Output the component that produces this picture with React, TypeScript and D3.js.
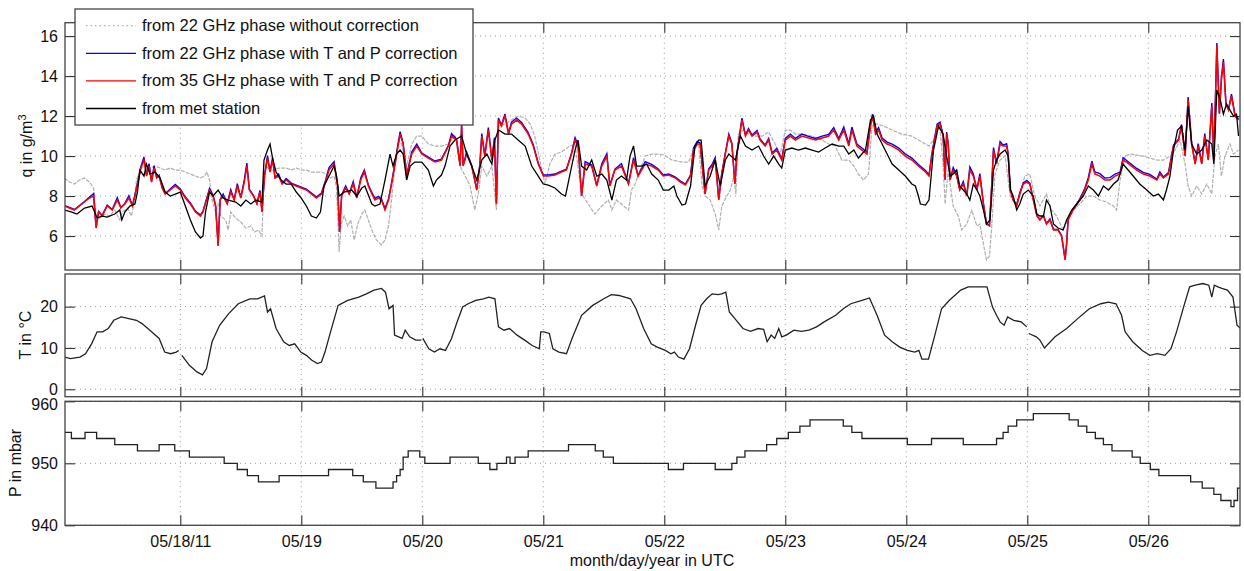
import React, { useEffect, useRef } from "react";
import * as d3 from "d3";

// time is in hours after 05/17/2011 00:00 UTC

// q from met station, g/m3
const qMet: [number, number][] = [
  [1.1, 7.3], [2.5, 7.2], [3.5, 7.1], [5, 7.4], [6.5, 7.5], [7.5, 6.9], [8.5, 7.0], [9.5, 6.95], [11, 7.1], [12, 7.3],
  [12.4, 6.8], [13, 7.2], [14, 7.5], [15, 7.6], [15.5, 8.2], [16, 9.3], [16.8, 9.0], [17.3, 9.6], [18, 9.1], [19, 9.2],
  [20, 8.9], [21, 8.2], [22, 8.0], [23, 8.1], [24, 8.2], [25, 7.5], [26, 6.8], [27, 6.2], [28, 5.9], [28.5, 6.0],
  [29, 7.2], [29.8, 8.2], [30.5, 8.0], [31.5, 8.3], [32.5, 7.9], [33.5, 7.8], [35, 7.7], [36, 7.5], [37, 7.8], [38, 7.6],
  [39, 7.8], [40.2, 7.7], [40.6, 9.8], [41.3, 10.3], [41.8, 10.6], [42.3, 9.9], [43, 9.2], [44, 8.8], [45, 8.6], [46, 8.6],
  [47, 8.2], [48, 7.9], [49, 7.5], [50, 7.0], [51, 6.9], [51.8, 7.2], [52.5, 8.5], [53.5, 9.0], [54.5, 9.5], [55, 9.0],
  [55.5, 8.0], [56.5, 8.2], [58, 8.3], [59, 8.0], [60, 8.4], [60.6, 8.5], [62.0, 7.6], [62.6, 7.5], [63.6, 7.6], [64.6, 8.8],
  [65.6, 10.1], [66.2, 9.5], [66.9, 10.1], [67.6, 10.3], [68.2, 10.1], [68.9, 8.8], [69.6, 9.5], [70.5, 9.7], [71.9, 9.7], [73.2, 9.3],
  [74.2, 8.5], [74.8, 8.8], [75.8, 9.05], [76.5, 9.5], [77.5, 10.5], [78.5, 10.8], [79.8, 11.0], [80.8, 10.1], [81.8, 9.5], [82.8, 8.8],
  [83.8, 9.8], [84.8, 10.1], [85.8, 9.6], [86.4, 10.8], [87.1, 11.3], [88.4, 11.1], [89.7, 11.1], [91.0, 10.8], [92.4, 10.5], [93.7, 9.5],
  [95.0, 9.0], [96.0, 8.6], [97.0, 8.55], [98.3, 8.4], [99.6, 8.1], [100.4, 8.0], [101.3, 9.1], [102.3, 10.3], [102.9, 10.8], [103.6, 9.5],
  [104.6, 9.3], [105.6, 9.8], [106.6, 9.0], [107.6, 9.1], [108.6, 8.8], [109.6, 7.8], [110.5, 8.8], [111.5, 9.0], [112.5, 8.8], [113.2, 10.0],
  [113.9, 10.5], [114.5, 9.5], [115.5, 9.5], [116.5, 9.6], [117.5, 9.1], [118.8, 8.8], [119.8, 8.3], [120.9, 8.3], [121.9, 8.5], [122.5, 8.0],
  [123.5, 7.55], [124.2, 7.6], [125.2, 8.5], [126.1, 10.5], [126.8, 10.8], [127.3, 10.8], [128.1, 8.5], [129.1, 9.0], [130.1, 9.8], [131.1, 8.5],
  [132.1, 9.8], [132.8, 10.1], [134.1, 9.8], [135.1, 11.0], [136.1, 10.5], [137.4, 10.3], [138.7, 10.5], [139.7, 10.0], [140.7, 9.6], [141.7, 10.0],
  [142.7, 9.6], [143.3, 9.4], [144.0, 10.3], [145.3, 10.4], [146.6, 10.3], [148.0, 10.4], [149.3, 10.3], [150.6, 10.2], [151.9, 10.4], [153.3, 10.6],
  [154.6, 10.5], [155.6, 10.5], [156.6, 10.1], [157.6, 10.3], [158.5, 9.9], [159.9, 10.3], [160.9, 11.8], [161.5, 12.0], [162.2, 11.1], [163.2, 10.6],
  [164.2, 10.1], [165.2, 9.6], [166.5, 9.3], [167.8, 9.0], [169.1, 8.6], [169.8, 8.5], [170.4, 8.0], [170.8, 7.6], [171.8, 7.55], [172.5, 7.8],
  [173.4, 10.3], [174.4, 11.5], [175.3, 11.1], [176.0, 10.0], [176.7, 9.0], [177.3, 9.1], [178.0, 9.3], [178.6, 8.5], [179.3, 8.3], [180.0, 8.1],
  [180.6, 7.8], [181.3, 8.6], [182.0, 8.3], [182.6, 8.0], [183.3, 7.3], [183.9, 6.6], [184.6, 6.8], [185.3, 9.3], [185.9, 9.8], [186.6, 10.1],
  [187.6, 10.3], [188.2, 10.0], [188.7, 8.3], [189.2, 8.0], [189.9, 7.3], [190.5, 7.6], [191.2, 8.1], [192.2, 8.3], [193.2, 8.0], [193.9, 7.1],
  [194.5, 7.0], [195.2, 7.0], [195.8, 7.8], [196.5, 7.5], [197.2, 6.6], [198.1, 6.4], [199.1, 6.3], [199.8, 6.8], [200.8, 7.3], [201.8, 7.6],
  [203.1, 8.0], [204.1, 8.5], [205.1, 8.3], [206.1, 8.0], [207.1, 8.5], [208.1, 8.3], [209.1, 8.6], [210.0, 8.8], [211.0, 9.6], [212.0, 9.3],
  [213.0, 9.0], [214.3, 8.6], [215.7, 8.3], [217.0, 8.0], [218.0, 8.1], [219.0, 7.8], [219.6, 8.3], [220.3, 9.0], [221.0, 10.3], [221.8, 11.3],
  [222.6, 11.5], [223.3, 10.3], [223.9, 12.5], [224.6, 10.6], [225.6, 10.1], [226.6, 10.3], [227.6, 10.8], [228.6, 10.6], [229.0, 9.6], [229.6, 13.3],
  [230.3, 12.8], [230.9, 12.1], [231.5, 12.6], [232.2, 12.3], [232.9, 12.0], [233.5, 12.1], [233.9, 11.0],
];

// q from 22 GHz phase, no correction
const q22Raw: [number, number][] = [
  [1, 8.9], [2, 8.7], [3, 8.6], [4, 8.8], [5, 8.9], [6, 8.7], [6.8, 8.4], [7.3, 7.0], [8, 6.9], [9, 7.1],
  [10, 7.0], [11, 7.3], [12, 6.8], [12.5, 7.2], [13.5, 7.4], [14.3, 7.0], [14.8, 7.6], [15.3, 8.8], [16, 9.3], [17, 9.6],
  [18, 9.4], [19, 9.5], [20, 9.4], [21, 9.3], [22, 9.4], [23, 9.3], [24, 9.3], [25, 9.2], [26, 9.1], [27, 9.0],
  [28, 8.9], [28.8, 9.0], [29.3, 9.2], [29.8, 8.8], [30.3, 7.8], [31, 7.2], [31.5, 7.6], [32, 7.0], [33, 6.8], [33.5, 6.3],
  [34, 7.2], [35, 6.9], [36, 6.7], [37, 6.4], [38, 6.5], [38.7, 6.2], [39.5, 6.3], [40.2, 6.0], [40.5, 8.2], [41, 9.5],
  [41.8, 9.3], [42.5, 9.3], [43.5, 9.4], [45, 9.4], [46, 9.3], [47, 9.4], [48, 9.3], [49, 9.3], [50, 9.2], [51, 9.2],
  [52, 9.2], [53, 9.1], [53.8, 8.9], [54.5, 9.0], [55, 8.4], [55.5, 5.2], [55.9, 6.6], [56.5, 7.0], [57.2, 6.5], [57.8, 6.8],
  [58.5, 5.8], [59.2, 6.6], [60, 7.1], [60.6, 7.3], [61.3, 6.8], [62.0, 6.3], [62.9, 5.8], [63.9, 5.55], [64.6, 5.8], [65.3, 6.5],
  [65.9, 7.8], [66.6, 9.5], [67.2, 10.8], [67.9, 10.6], [68.9, 9.5], [69.9, 10.6], [70.9, 11.0], [71.9, 11.0], [73.2, 10.6], [74.5, 10.5],
  [75.8, 10.5], [77.2, 10.6], [78.5, 11.05], [79.5, 9.5], [80.5, 9.0], [81.5, 8.5], [82.4, 7.3], [83.1, 8.1], [83.8, 9.5], [84.8, 9.0],
  [85.8, 9.5], [86.7, 7.3], [87.1, 11.5], [88.4, 11.6], [89.7, 11.8], [91.0, 12.0], [92.4, 11.9], [93.4, 11.6], [94.3, 11.0], [95.3, 9.8],
  [96.0, 9.0], [96.3, 8.6], [97.3, 9.6], [98.3, 10.1], [99.6, 10.2], [101.3, 10.5], [102.3, 10.6], [103.6, 8.1], [104.9, 7.6], [106.2, 7.1],
  [107.6, 7.5], [108.9, 7.8], [109.6, 7.3], [110.5, 7.8], [111.5, 7.6], [112.9, 7.3], [113.5, 8.3], [114.2, 8.6], [115.2, 9.3], [116.2, 10.0],
  [117.5, 10.1], [118.8, 10.1], [120.1, 10.05], [120.9, 9.9], [121.5, 9.8], [123.5, 9.7], [124.8, 9.7], [125.8, 10.3], [126.8, 10.6], [127.5, 8.5],
  [128.1, 8.0], [129.1, 7.8], [130.1, 7.1], [130.8, 6.3], [131.4, 7.5], [132.4, 8.0], [133.1, 8.3], [133.8, 9.0], [134.2, 8.1], [134.7, 11.1],
  [135.7, 11.3], [136.7, 11.1], [138.0, 11.0], [139.4, 11.0], [140.7, 11.2], [142.0, 10.6], [143.0, 10.1], [144.0, 11.3], [145.0, 11.3], [146.0, 11.1],
  [147.3, 11.1], [149.3, 11.0], [151.3, 10.8], [152.6, 10.6], [153.9, 10.5], [155.2, 9.8], [156.6, 9.8], [157.6, 9.5], [158.5, 9.1], [159.5, 8.8],
  [160.5, 9.1], [161.2, 11.5], [162.2, 11.6], [163.5, 11.5], [165.2, 11.3], [167.1, 11.1], [169.1, 11.0], [171.1, 10.7], [172.5, 10.5], [173.4, 10.8],
  [174.4, 11.5], [174.7, 11.3], [175.3, 9.6], [175.7, 7.6], [176.3, 9.3], [177.3, 7.5], [178.3, 7.0], [179.0, 6.3], [180.0, 6.6], [181.0, 7.3],
  [182.0, 6.5], [182.6, 6.6], [183.3, 5.6], [183.9, 4.8], [184.5, 5.0], [184.9, 6.3], [185.6, 9.1], [186.6, 9.8], [187.6, 10.0], [188.6, 8.0],
  [189.6, 7.6], [190.5, 8.0], [191.5, 9.0], [192.5, 9.1], [193.5, 8.0], [194.5, 7.5], [195.8, 8.1], [196.8, 7.3], [197.8, 7.0], [199.1, 6.3],
  [200.1, 6.8], [201.1, 7.3], [202.4, 7.6], [203.8, 8.0], [205.1, 8.0], [206.4, 7.8], [207.7, 7.7], [209.1, 7.5], [209.7, 7.3], [210.4, 8.8],
  [211.4, 10.0], [212.4, 10.1], [213.7, 10.05], [215.0, 10.0], [216.3, 9.9], [217.7, 9.8], [219.0, 9.8], [220.3, 10.0], [221.3, 10.3], [222.3, 10.8],
  [223.3, 9.6], [223.9, 8.5], [224.6, 8.0], [225.6, 8.5], [226.6, 8.1], [227.6, 8.6], [228.6, 8.1], [229.2, 10.0], [229.9, 10.6], [230.5, 9.0],
  [231.2, 10.0], [232.2, 10.6], [232.9, 10.1], [233.9, 10.3],
];

// sample times shared by the two corrected series
const corrHours = [
  1, 2, 3, 4, 5, 6, 6.8, 7.3, 7.8, 8.5,
  9.5, 10.5, 11.5, 12.2, 13, 13.8, 14.5, 15, 15.5, 16.2,
  16.8, 17.3, 17.8, 18.3, 18.8, 19.3, 19.8, 20.4, 21, 22,
  23, 24, 25, 26, 27, 28, 28.5, 29.2, 29.8, 30.5,
  31, 31.5, 31.9, 32.5, 33.3, 34, 34.7, 35.3, 36, 36.7,
  37.2, 37.7, 38.5, 39.2, 39.8, 40.2, 40.7, 41.3, 41.8, 42.3,
  42.8, 43.5, 44.2, 45, 46, 47, 48, 49, 50, 51,
  52, 52.8, 53.5, 54.5, 55.2, 55.6, 56, 56.8, 57.5, 58.3,
  59, 59.8, 60.5, 61.3, 62.0, 62.6, 63.3, 63.9, 64.6, 65.3,
  65.9, 66.6, 67.6, 68.2, 68.9, 69.9, 70.9, 71.9, 73.2, 74.5,
  75.8, 77.2, 77.8, 78.8, 79.5, 79.8, 80.1, 80.8, 81.8, 82.8,
  83.4, 83.8, 84.4, 85.1, 85.8, 86.3, 86.7, 87.1, 87.7, 88.4,
  89.1, 89.7, 90.7, 91.7, 93.0, 94.0, 95.0, 96.0, 97.0, 98.3,
  99.6, 100.6, 101.6, 102.3, 102.9, 103.6, 104.3, 105.6, 106.6, 107.6,
  108.6, 109.2, 110.2, 111.5, 112.9, 113.9, 114.8, 116.2, 117.5, 118.8,
  119.8, 120.9, 122.2, 123.2, 124.2, 125.2, 125.8, 126.5, 127.1, 127.8,
  128.1, 128.8, 129.5, 130.1, 130.8, 131.4, 132.1, 132.8, 133.4, 134.0,
  134.4, 135.1, 135.4, 136.1, 136.7, 137.4, 138.4, 139.0, 140.0, 140.7,
  141.4, 142.3, 143.3, 144.0, 145.0, 146.0, 147.3, 148.6, 150.0, 151.3,
  152.6, 153.6, 154.6, 155.6, 156.6, 157.2, 158.2, 159.2, 160.2, 160.9,
  161.3, 161.9, 162.5, 163.2, 164.2, 165.2, 166.5, 167.8, 169.1, 170.4,
  171.8, 172.5, 173.1, 174.1, 174.7, 175.3, 175.7, 176.0, 176.3, 176.7,
  177.3, 178.0, 178.6, 179.3, 180.0, 180.6, 181.3, 182.0, 182.6, 183.3,
  183.9, 184.5, 184.9, 185.3, 185.9, 186.6, 187.2, 187.9, 188.2, 188.6,
  189.2, 189.9, 190.5, 191.2, 191.9, 192.5, 193.2, 193.9, 194.5, 195.2,
  195.8, 196.5, 197.2, 198.1, 198.8, 199.5, 199.8, 200.1, 201.1, 202.4,
  203.4, 204.1, 204.8, 205.4, 206.4, 207.4, 208.4, 209.4, 210.4, 211.0,
  211.7, 212.7, 213.7, 215.0, 216.3, 217.7, 218.3, 219.0, 220.0, 221.0,
  222.0, 222.6, 223.3, 223.9, 224.6, 225.3, 225.9, 226.6, 227.2, 227.9,
  228.6, 229.0, 229.6, 230.1, 230.5, 230.9, 231.4, 231.9, 232.5, 233.2,
  233.9,
];

// q from 35 GHz phase with T and P correction
const q35Corr = [
  7.5, 7.4, 7.3, 7.5, 7.7, 7.9, 8.0, 6.4, 7.2, 7.0,
  7.5, 7.3, 7.8, 7.4, 7.6, 7.9, 7.5, 8.0, 8.6, 9.4,
  9.8, 9.0, 9.5, 8.7, 9.4, 8.9, 9.0, 8.4, 8.1, 8.3,
  8.5, 8.3, 7.9, 7.6, 7.2, 7.0, 7.2, 7.8, 8.3, 8.0,
  7.5, 5.5, 7.8, 8.0, 7.6, 8.2, 7.8, 8.5, 7.9, 8.7,
  9.5, 8.3, 8.0, 7.6, 8.2, 7.2, 9.0, 9.9, 9.2, 9.8,
  8.9, 9.0, 8.6, 8.8, 8.6, 8.5, 8.4, 8.3, 8.1, 7.9,
  8.1, 8.7, 9.3, 9.6, 8.5, 6.2, 8.0, 8.4, 8.1, 8.6,
  7.9, 8.8, 9.2, 8.5, 8.1, 7.8, 7.9, 7.8, 7.3, 7.8,
  8.6, 9.6, 11.1, 10.6, 9.0, 10.1, 10.5, 10.1, 9.9, 9.7,
  9.8, 10.5, 11.0, 10.8, 9.5, 11.5, 9.5, 10.1, 9.5, 8.3,
  9.5, 11.0, 10.0, 11.3, 9.8, 10.8, 7.6, 11.8, 11.5, 12.0,
  11.1, 11.6, 11.8, 11.6, 11.1, 10.5, 9.6, 9.0, 9.0, 9.05,
  9.2, 9.3, 10.1, 10.8, 10.5, 8.0, 9.6, 9.5, 8.5, 9.5,
  10.0, 8.5, 9.3, 9.5, 8.6, 9.8, 9.0, 9.6, 9.5, 9.3,
  9.0, 9.05, 8.9, 8.7, 8.55, 9.0, 10.3, 10.6, 10.6, 8.8,
  8.1, 9.3, 9.5, 9.8, 7.8, 9.1, 10.1, 11.0, 10.6, 8.6,
  10.1, 11.3, 11.8, 11.0, 11.3, 11.0, 11.2, 10.8, 10.5, 10.8,
  10.1, 10.3, 9.8, 10.8, 11.0, 10.8, 11.0, 10.9, 10.8, 10.9,
  11.0, 11.3, 10.8, 11.3, 10.5, 11.3, 10.5, 10.3, 10.1, 11.5,
  12.0, 11.1, 11.3, 10.8, 10.6, 10.5, 10.3, 10.0, 9.8, 9.5,
  9.2, 9.0, 10.1, 11.5, 11.6, 11.0, 8.8, 11.1, 10.6, 8.8,
  9.3, 9.0, 8.3, 8.6, 8.0, 9.3, 9.0, 8.3, 9.0, 7.6,
  6.6, 6.5, 8.3, 10.3, 9.6, 10.6, 10.5, 10.5, 10.1, 8.3,
  7.8, 7.5, 8.1, 8.6, 8.7, 8.6, 7.8, 7.0, 6.8, 7.0,
  6.6, 6.8, 6.3, 6.3, 6.0, 4.8, 5.6, 6.8, 7.3, 7.8,
  8.3, 8.8, 9.6, 9.1, 9.0, 8.8, 8.8, 9.0, 9.1, 9.8,
  9.7, 9.5, 9.3, 9.1, 9.0, 8.8, 9.1, 8.9, 9.1, 10.5,
  10.8, 11.5, 10.0, 12.8, 10.6, 9.6, 10.5, 9.6, 11.0, 9.8,
  12.5, 9.8, 15.5, 12.1, 13.8, 14.7, 12.6, 12.3, 13.0, 12.0,
  11.8,
];

// q from 22 GHz phase with T and P correction
const q22Corr = [
  7.53, 7.43, 7.33, 7.53, 7.73, 7.95, 8.12, 6.43, 7.23, 7.03,
  7.55, 7.33, 7.92, 7.43, 7.63, 8.02, 7.53, 8.05, 8.63, 9.48,
  9.95, 9.03, 9.62, 8.73, 9.52, 8.93, 9.05, 8.43, 8.13, 8.35,
  8.58, 8.35, 7.95, 7.65, 7.25, 7.05, 7.25, 7.85, 8.38, 8.05,
  7.53, 5.53, 7.83, 8.1, 7.63, 8.32, 7.83, 8.62, 7.93, 8.82,
  9.65, 8.33, 8.03, 7.63, 8.28, 7.23, 9.05, 10.02, 9.23, 9.92,
  8.93, 9.1, 8.63, 8.88, 8.65, 8.55, 8.45, 8.35, 8.15, 7.95,
  8.15, 8.78, 9.42, 9.72, 8.53, 6.23, 8.05, 8.5, 8.13, 8.72,
  7.93, 8.92, 9.3, 8.55, 8.18, 7.88, 7.98, 7.85, 7.38, 7.85,
  8.65, 9.7, 11.22, 10.65, 9.03, 10.2, 10.6, 10.15, 9.95, 9.75,
  9.85, 10.55, 11.12, 10.85, 9.53, 11.6, 9.53, 10.2, 9.53, 8.33,
  9.53, 11.12, 10.03, 11.42, 9.83, 10.92, 7.63, 11.9, 11.55, 12.1,
  11.15, 11.7, 11.9, 11.68, 11.18, 10.58, 9.65, 9.05, 9.05, 9.1,
  9.25, 9.35, 10.15, 10.92, 10.55, 8.03, 9.72, 9.55, 8.53, 9.62,
  10.12, 8.53, 9.35, 9.62, 8.63, 9.92, 9.03, 9.72, 9.58, 9.35,
  9.05, 9.1, 8.95, 8.75, 8.6, 9.05, 10.4, 10.72, 10.65, 8.83,
  8.13, 9.35, 9.6, 9.92, 7.83, 9.15, 10.15, 11.1, 10.65, 8.63,
  10.15, 11.35, 11.9, 11.05, 11.38, 11.05, 11.28, 10.85, 10.55, 10.88,
  10.15, 10.38, 9.85, 10.88, 11.1, 10.88, 11.1, 10.98, 10.88, 11.0,
  11.08, 11.42, 10.88, 11.45, 10.6, 11.45, 10.6, 10.4, 10.2, 11.6,
  12.1, 11.2, 11.42, 10.9, 10.7, 10.6, 10.4, 10.1, 9.9, 9.58,
  9.28, 9.05, 10.15, 11.6, 11.7, 11.05, 8.83, 11.2, 10.65, 8.83,
  9.42, 9.05, 8.33, 8.72, 8.03, 9.45, 9.1, 8.33, 9.12, 7.63,
  6.63, 6.53, 8.35, 10.42, 9.65, 10.72, 10.55, 10.62, 10.15, 8.33,
  7.83, 7.53, 8.15, 8.65, 8.78, 8.65, 7.83, 7.03, 6.83, 7.03,
  6.63, 6.85, 6.33, 6.33, 6.03, 4.83, 5.63, 6.85, 7.35, 7.85,
  8.38, 8.92, 9.75, 9.2, 9.12, 8.9, 8.92, 9.1, 9.2, 9.92,
  9.78, 9.58, 9.38, 9.18, 9.08, 8.85, 9.2, 8.95, 9.18, 10.55,
  10.85, 11.58, 10.03, 12.95, 10.65, 9.63, 10.62, 9.63, 11.12, 9.83,
  12.65, 9.83, 15.65, 12.15, 13.92, 14.85, 12.65, 12.35, 13.1, 12.05,
  11.85,
];

// temperature, deg C (null = gap in record)
const tempC: [number, number | null][] = [
  [1.1, 7.8], [2.2, 7.4], [4.1, 7.8], [5.2, 8.6], [6.4, 11.0], [7.5, 13.9], [8.6, 13.9], [9.7, 14.7], [10.8, 16.7], [12.3, 17.5],
  [13.8, 17.1], [15.3, 16.7], [16.4, 15.9], [18.3, 13.9], [19.8, 12.3], [20.9, 9.0], [22.1, 8.6], [23.2, 9.0], [23.7, 9.4], [24.0, null],
  [24.3, 8.2], [25.8, 5.8], [27.3, 4.2], [28.4, 3.5], [29.2, 5.0], [30.3, 11.5], [31.8, 15.5], [33.6, 18.3], [35.5, 20.7], [37.8, 21.9],
  [39.3, 21.9], [40.7, 22.6], [41.3, 18.7], [41.9, 19.5], [43.0, 14.7], [44.5, 11.5], [45.6, 10.6], [46.7, 11.0], [47.9, 9.0], [49.0, 8.2],
  [50.1, 7.0], [51.2, 6.2], [52.0, 6.6], [52.7, 9.0], [53.8, 13.9], [55.3, 20.3], [57.2, 21.5], [59.4, 22.3], [60.9, 23.1], [62.4, 24.0],
  [63.9, 24.4], [64.7, 23.5], [65.4, 19.5], [66.2, 20.3], [66.5, 13.1], [67.3, 12.7], [68.0, 12.3], [68.6, 14.3], [69.5, 12.7], [70.7, 11.9],
  [71.8, 11.9], [71.95, null], [72.1, 12.3], [73.3, 9.8], [74.4, 9.0], [75.5, 9.8], [76.6, 9.4], [77.8, 12.3], [78.9, 16.3], [80.0, 19.9],
  [81.1, 20.7], [82.6, 21.5], [84.1, 21.9], [85.2, 22.3], [86.4, 21.9], [87.1, 15.1], [88.2, 14.3], [89.3, 14.7], [90.8, 13.1], [92.3, 11.9],
  [93.8, 10.6], [95.2, 9.8], [95.5, 13.9], [96.1, 13.9], [97.2, 13.5], [97.9, 9.8], [99.1, 9.0], [100.6, 8.6], [101.7, 12.3], [103.6, 17.9],
  [105.8, 20.3], [108.0, 21.9], [109.5, 22.9], [111.0, 22.7], [113.3, 21.9], [114.4, 19.5], [115.9, 14.7], [117.4, 11.0], [118.6, 10.2], [120.2, 9.4],
  [121.3, 8.6], [122.0, 9.0], [122.8, 7.8], [123.9, 7.3], [125.0, 9.8], [126.2, 15.5], [127.3, 20.3], [128.4, 21.9], [129.5, 23.1], [130.7, 22.9],
  [131.4, 23.1], [132.2, 23.5], [132.9, 18.7], [134.0, 17.1], [135.6, 14.7], [137.1, 14.0], [138.6, 14.7], [139.7, 14.5], [140.4, 11.5], [141.2, 13.1],
  [141.9, 12.3], [142.7, 14.7], [143.3, 12.7], [144.2, 13.1], [145.7, 14.3], [147.2, 14.0], [148.7, 14.3], [150.2, 15.1], [151.7, 16.3], [154.0, 17.9],
  [155.5, 19.5], [157.0, 20.7], [159.2, 21.5], [160.7, 22.1], [162.2, 17.9], [163.7, 13.1], [165.2, 11.5], [166.7, 10.2], [168.2, 9.4], [169.7, 9.0],
  [170.5, 9.4], [171.1, 7.3], [172.4, 7.3], [173.5, 12.3], [175.0, 19.5], [176.5, 21.5], [178.8, 24.0], [180.3, 24.8], [182.5, 24.8], [184.0, 24.8],
  [185.1, 19.9], [185.9, 17.9], [186.6, 16.3], [187.4, 15.5], [188.1, 17.5], [189.3, 16.7], [190.8, 16.3], [191.9, 15.1], [192.1, null], [192.3, 13.5],
  [193.8, 12.7], [194.5, 11.9], [195.4, 10.0], [197.5, 12.7], [199.8, 14.7], [202.0, 17.1], [204.3, 19.5], [206.6, 20.7], [208.1, 21.1], [209.6, 20.7],
  [210.7, 17.9], [211.4, 13.9], [212.9, 11.5], [214.8, 9.4], [216.3, 8.2], [217.8, 8.6], [219.3, 8.2], [220.5, 9.8], [221.6, 13.9], [223.1, 20.3],
  [224.2, 24.8], [225.3, 25.2], [226.8, 25.6], [228.0, 25.2], [228.6, 22.3], [229.1, 25.2], [229.8, 24.8], [230.6, 24.4], [231.7, 24.0], [232.8, 22.3],
  [233.6, 15.5], [234.2, 14.8],
];

// pressure, mbar: value holds from each time until the next one
const pressure: [number, number][] = [
  [1.1, 955], [2.4, 954], [5.1, 955], [7.4, 954], [11.0, 953], [15.5, 952], [19.8, 953], [22.9, 952], [25.8, 951], [32.7, 950],
  [35.3, 949], [37.3, 948], [39.5, 947], [43.6, 948], [53.4, 949], [58.2, 948], [60.3, 947], [62.8, 946], [66.2, 947], [66.9, 948],
  [67.6, 949], [68.2, 951], [69.2, 952], [71.5, 951], [72.5, 950], [77.5, 951], [83.1, 950], [85.4, 949], [86.8, 950], [88.7, 951],
  [89.4, 950], [90.4, 951], [93.0, 952], [101.0, 953], [106.3, 952], [107.9, 951], [109.9, 950], [120.8, 949], [123.8, 950], [130.1, 949],
  [133.4, 950], [134.4, 951], [136.0, 952], [140.3, 953], [142.3, 954], [144.6, 955], [146.9, 956], [148.9, 957], [155.5, 956], [157.2, 955],
  [159.2, 954], [168.2, 953], [173.0, 954], [179.3, 953], [185.9, 954], [187.2, 955], [188.2, 956], [189.9, 957], [193.2, 958], [200.3, 957],
  [202.1, 956], [203.8, 955], [205.5, 954], [207.1, 953], [208.8, 952], [212.8, 951], [214.4, 950], [216.4, 949], [218.1, 948], [224.4, 947],
  [226.7, 946], [229.0, 945], [230.4, 944], [232.4, 943], [233.0, 944], [233.7, 946], [234.2, 946],
];

const qTicks = [6, 8, 10, 12, 14, 16];
const tTicks = [0, 10, 20];
const pTicks = [940, 950, 960];

const legendLabels = [
  "from 22 GHz phase without correction",
  "from 22 GHz phase with T and P correction",
  "from 35 GHz phase with T and P correction",
  "from met station",
];
const seriesColors = ["#b0b0b0", "#0000ff", "#ff0000", "#000000"];

const base = Date.UTC(2011, 4, 17);
const toDate = (h: number) => new Date(base + h * 3600e3);

const App = () => {
  const svgRef = useRef<SVGSVGElement>(null);

  useEffect(() => {
    const width = 1244;
    const height = 571;
    const left = 65;
    const right = 1240;
    const font = "'Liberation Sans', Arial, Helvetica, sans-serif";

    const svg = d3.select(svgRef.current);
    svg.selectAll("*").remove();
    svg.attr("width", width).attr("height", height);

    const x = d3
      .scaleUtc()
      .domain([toDate(1.13), toDate(234.19)])
      .range([left, right]);
    const days = x.ticks(d3.utcDay.every(1) as d3.TimeInterval);
    const fmtFirst = d3.utcFormat("%m/%d/%y");
    const fmtDay = d3.utcFormat("%m/%d");

    const panels = [
      { id: "q", top: 22.7, bottom: 270, domain: [4.3, 16.67], ticks: qTicks },
      { id: "t", top: 274, bottom: 396.7, domain: [-1.8, 27.9], ticks: tTicks },
      { id: "p", top: 401.3, bottom: 525.3, domain: [940, 960], ticks: pTicks },
    ];

    const scales: Record<string, d3.ScaleLinear<number, number>> = {};

    panels.forEach((p, pi) => {
      const y = d3.scaleLinear().domain(p.domain).range([p.bottom, p.top]);
      scales[p.id] = y;
      const g = svg.append("g");

      g.append("rect")
        .attr("x", left)
        .attr("y", p.top)
        .attr("width", right - left)
        .attr("height", p.bottom - p.top)
        .attr("fill", "#fff");

      g.append("clipPath")
        .attr("id", "clip-" + p.id)
        .append("rect")
        .attr("x", left)
        .attr("y", p.top)
        .attr("width", right - left)
        .attr("height", p.bottom - p.top);

      // dotted grid
      g.append("g")
        .selectAll("line")
        .data(p.ticks)
        .join("line")
        .attr("x1", left)
        .attr("x2", right)
        .attr("y1", (d) => y(d))
        .attr("y2", (d) => y(d))
        .attr("stroke", "#9a9a9a")
        .attr("stroke-width", 1)
        .attr("stroke-dasharray", "1 4");
      g.append("g")
        .selectAll("line")
        .data(days)
        .join("line")
        .attr("x1", (d) => x(d))
        .attr("x2", (d) => x(d))
        .attr("y1", p.top)
        .attr("y2", p.bottom)
        .attr("stroke", "#9a9a9a")
        .attr("stroke-width", 1)
        .attr("stroke-dasharray", "1 4");

      // axes, ticks pointing inward
      const yl = g
        .append("g")
        .attr("transform", `translate(${left},0)`)
        .call(d3.axisLeft(y).tickValues(p.ticks).tickSize(-10).tickPadding(7));
      const yr = g
        .append("g")
        .attr("transform", `translate(${right},0)`)
        .call(d3.axisRight(y).tickValues(p.ticks).tickSize(-10).tickFormat(() => ""));
      const xb = g
        .append("g")
        .attr("transform", `translate(0,${p.bottom})`)
        .call(
          d3
            .axisBottom(x)
            .tickValues(days)
            .tickSize(-10)
            .tickPadding(10)
            .tickFormat((d, i) =>
              pi === 2 ? (i === 0 ? fmtFirst(d as Date) : fmtDay(d as Date)) : ""
            )
        );
      const xt = g
        .append("g")
        .attr("transform", `translate(0,${p.top})`)
        .call(d3.axisTop(x).tickValues(days).tickSize(-10).tickFormat(() => ""));

      [yl, yr, xb, xt].forEach((a) => {
        a.select(".domain").remove();
        a.selectAll(".tick line").attr("stroke", "#333").attr("stroke-width", 1.1);
        a.selectAll("text")
          .attr("font-family", font)
          .attr("font-size", 16)
          .attr("fill", "#111");
      });

      // top label of the pressure axis sits just under the temperature "0"
      if (pi === 2) {
        yl.selectAll<SVGTextElement, number>("text")
          .filter((d) => d === 960)
          .attr("y", 3);
      }
    });

    const clipped = (id: string) => svg.append("g").attr("clip-path", `url(#clip-${id})`);

    // humidity panel
    const yQ = scales.q;
    const qLine = d3
      .line<[number, number]>()
      .x((d) => x(toDate(d[0])))
      .y((d) => yQ(d[1]));
    const corr22: [number, number][] = corrHours.map((h, i) => [h, q22Corr[i]]);
    const corr35: [number, number][] = corrHours.map((h, i) => [h, q35Corr[i]]);
    const gq = clipped("q");
    gq.append("path")
      .datum(q22Raw)
      .attr("fill", "none")
      .attr("stroke", seriesColors[0])
      .attr("stroke-width", 1.2)
      .attr("stroke-dasharray", "4 1.2")
      .attr("d", qLine);
    gq.append("path")
      .datum(corr22)
      .attr("fill", "none")
      .attr("stroke", seriesColors[1])
      .attr("stroke-width", 1.4)
      .attr("d", qLine);
    gq.append("path")
      .datum(corr35)
      .attr("fill", "none")
      .attr("stroke", seriesColors[2])
      .attr("stroke-width", 1.5)
      .attr("d", qLine);
    gq.append("path")
      .datum(qMet)
      .attr("fill", "none")
      .attr("stroke", seriesColors[3])
      .attr("stroke-width", 1.3)
      .attr("d", qLine);

    // temperature panel
    const yT = scales.t;
    clipped("t")
      .append("path")
      .datum(tempC)
      .attr("fill", "none")
      .attr("stroke", "#222")
      .attr("stroke-width", 1.3)
      .attr(
        "d",
        d3
          .line<[number, number | null]>()
          .defined((d) => d[1] != null)
          .x((d) => x(toDate(d[0])))
          .y((d) => yT(d[1] as number))
      );

    // pressure panel
    const yP = scales.p;
    clipped("p")
      .append("path")
      .datum(pressure)
      .attr("fill", "none")
      .attr("stroke", "#222")
      .attr("stroke-width", 1.3)
      .attr(
        "d",
        d3
          .line<[number, number]>()
          .curve(d3.curveStepAfter)
          .x((d) => x(toDate(d[0])))
          .y((d) => yP(d[1]))
      );

    // panel frames
    panels.forEach((p) => {
      svg
        .append("rect")
        .attr("x", left)
        .attr("y", p.top)
        .attr("width", right - left)
        .attr("height", p.bottom - p.top)
        .attr("fill", "none")
        .attr("stroke", "#444")
        .attr("stroke-width", 1.3);
    });

    // axis titles
    const yTitle = (cx: number, cy: number) =>
      svg
        .append("text")
        .attr("transform", `translate(${cx},${cy}) rotate(-90)`)
        .attr("text-anchor", "middle")
        .attr("font-family", font)
        .attr("font-size", 16)
        .attr("fill", "#111");
    const qt = yTitle(32, 146);
    qt.append("tspan").text("q in g/m");
    qt.append("tspan").attr("dy", -6).attr("font-size", 11).text("3");
    yTitle(31, 335).text("T in °C");
    yTitle(21, 463).text("P in mbar");

    svg
      .append("text")
      .attr("x", 652)
      .attr("y", 566)
      .attr("text-anchor", "middle")
      .attr("font-family", font)
      .attr("font-size", 16)
      .attr("fill", "#111")
      .text("month/day/year in UTC");

    // legend
    const lg = svg.append("g");
    lg.append("rect")
      .attr("x", 75)
      .attr("y", 9)
      .attr("width", 398)
      .attr("height", 116)
      .attr("fill", "#fff")
      .attr("stroke", "#444")
      .attr("stroke-width", 1.3);
    const rowY = d3.scaleLinear().domain([0, 3]).range([25.7, 108.5]);
    legendLabels.forEach((label, i) => {
      lg.append("line")
        .attr("x1", 86)
        .attr("x2", 136)
        .attr("y1", rowY(i))
        .attr("y2", rowY(i))
        .attr("stroke", seriesColors[i])
        .attr("stroke-width", 1.3)
        .attr("stroke-dasharray", i === 0 ? "1.5 3" : null);
      lg.append("text")
        .attr("x", 142)
        .attr("y", rowY(i) + 5.5)
        .attr("font-family", font)
        .attr("font-size", 16.5)
        .attr("fill", "#111")
        .text(label);
    });
  }, []);

  return (
    <svg
      ref={svgRef}
      style={{ position: "absolute", left: 0, top: 0, display: "block" }}
    ></svg>
  );
};

export default App;
